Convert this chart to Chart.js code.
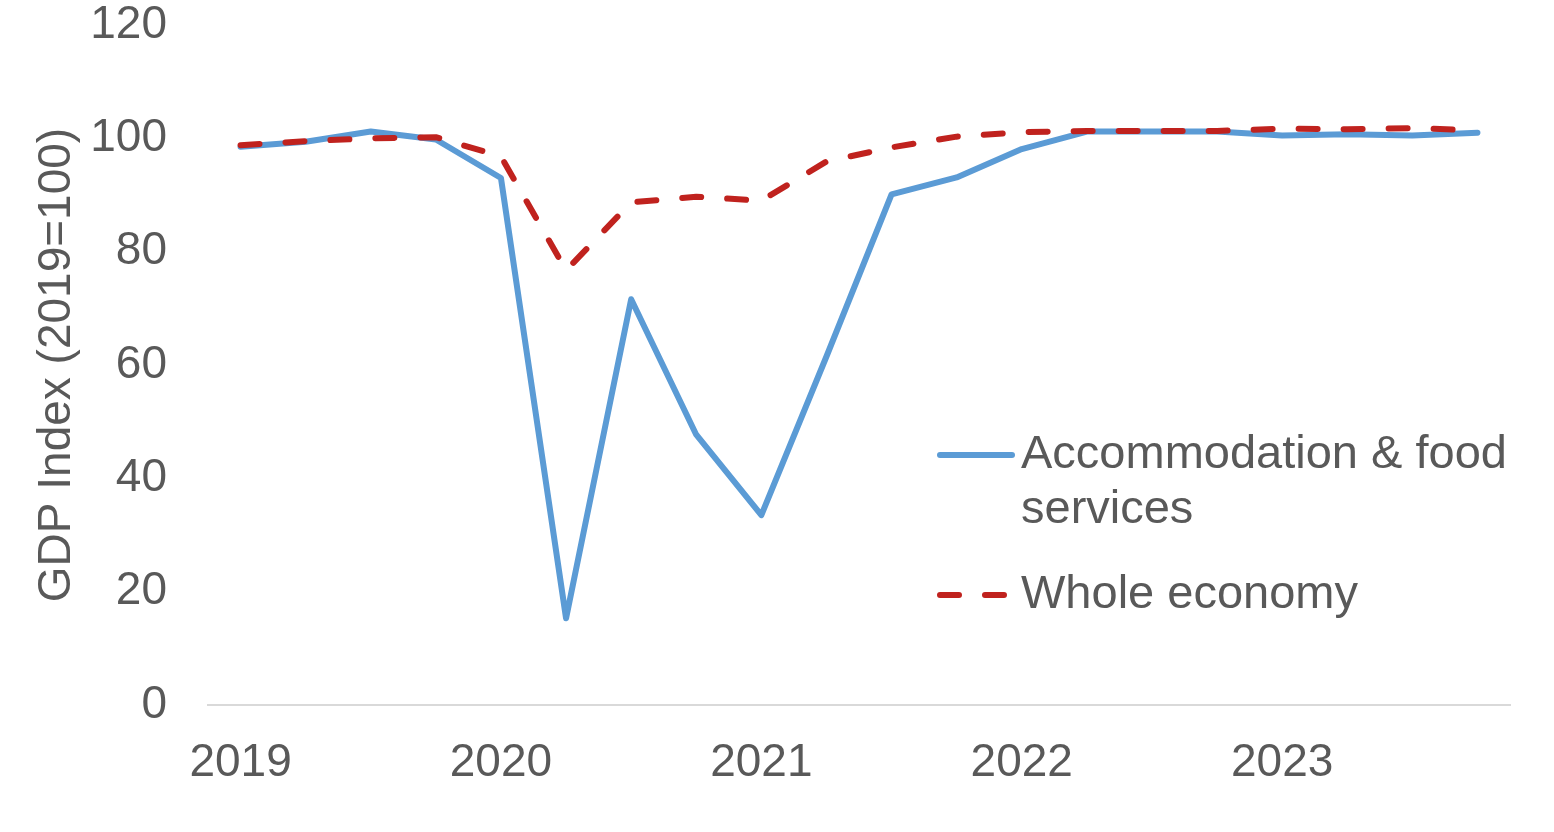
<!DOCTYPE html>
<html>
<head>
<meta charset="utf-8">
<title>GDP Index</title>
<script src="https://cdn.jsdelivr.net/npm/chart.js@4.4.1/dist/chart.umd.min.js"></script>
<style>
  html, body { margin: 0; padding: 0; background: #fff; }
  #wrap { width: 1554px; height: 832px; position: relative; }
</style>
</head>
<body>
<div id="wrap"><canvas id="gdp"></canvas></div>
<script>
// quarterly points, 2019 Q1 .. 2023 Q4
const quarters = [
  '2019 Q1', '2019 Q2', '2019 Q3', '2019 Q4',
  '2020 Q1', '2020 Q2', '2020 Q3', '2020 Q4',
  '2021 Q1', '2021 Q2', '2021 Q3', '2021 Q4',
  '2022 Q1', '2022 Q2', '2022 Q3', '2022 Q4',
  '2023 Q1', '2023 Q2', '2023 Q3', '2023 Q4'
];
const accommodation = [
  98.5, 99.4, 101.2, 99.8,
  93.0, 15.3, 71.6, 47.7,
  33.5, 61.5, 90.1, 93.1,
  98.1, 101.2, 101.2, 101.2,
  100.5, 100.7, 100.5, 101.0
];
const wholeEconomy = [
  98.8, 99.5, 100.0, 100.2,
  96.8, 76.7, 88.7, 89.7,
  89.0, 95.9, 98.4, 100.3,
  101.1, 101.3, 101.3, 101.3,
  101.7, 101.6, 101.8, 101.4
];
const yTicks = [0, 20, 40, 60, 80, 100, 120];

const grey = '#595959';
const blue = '#5B9BD5';
const red = '#C0221E';
const fontFamily = '"Liberation Sans", Arial, sans-serif';

// legend drawn by hand so the long label can wrap onto two lines
const legendLines = [
  ['Accommodation & food', 'services'],
  ['Whole economy']
];

const sideLegend = {
  id: 'sideLegend',
  afterDraw(chart) {
    const c = chart.ctx;
    const rows = [455, 595];
    c.save();
    c.font = '47px ' + fontFamily;
    c.fillStyle = grey;
    c.textBaseline = 'middle';
    chart.data.datasets.forEach((ds, i) => {
      const y = rows[i];
      c.beginPath();
      c.lineWidth = ds.borderWidth;
      c.strokeStyle = ds.borderColor;
      c.lineCap = 'round';
      c.setLineDash(ds.borderDash || []);
      c.moveTo(940, y);
      c.lineTo(1012, y);
      c.stroke();
      c.setLineDash([]);
      legendLines[i].forEach((t, k) => c.fillText(t, 1021, y + k * 55));
    });
    c.restore();
  }
};

new Chart(document.getElementById('gdp'), {
  type: 'line',
  data: {
    labels: quarters,
    datasets: [
      {
        label: 'Accommodation & food services',
        data: accommodation,
        borderColor: blue,
        borderWidth: 6,
        borderJoinStyle: 'round',
        borderCapStyle: 'round',
        pointRadius: 0,
        tension: 0,
        order: 1
      },
      {
        label: 'Whole economy',
        data: wholeEconomy,
        borderColor: red,
        borderWidth: 6,
        borderDash: [19, 26],
        borderJoinStyle: 'round',
        borderCapStyle: 'round',
        pointRadius: 0,
        tension: 0,
        order: 0
      }
    ]
  },
  options: {
    responsive: true,
    maintainAspectRatio: false,
    animation: false,
    layout: { padding: { top: 25, right: 44, bottom: 0, left: 0 } },
    plugins: {
      legend: { display: false },
      tooltip: { enabled: false }
    },
    scales: {
      x: {
        offset: true,
        grid: { display: false, drawTicks: false },
        border: { display: true, color: '#D9D9D9', width: 2 },
        ticks: {
          autoSkip: false,
          maxRotation: 0,
          padding: 35,
          color: grey,
          font: { family: fontFamily, size: 46, lineHeight: 1 },
          callback: function (v) {
            const q = this.getLabelForValue(v);
            return q.endsWith('Q1') ? q.slice(0, 4) : '';
          }
        },
        afterFit(scale) { scale.height = 127; }
      },
      y: {
        min: 0,
        max: 120,
        afterBuildTicks(scale) { scale.ticks = yTicks.map(v => ({ value: v })); },
        // invisible tick marks give the gap between labels and plot
        grid: { display: true, drawOnChartArea: false, drawTicks: true, tickLength: 41, color: 'rgba(0,0,0,0)' },
        border: { display: false },
        ticks: {
          padding: 0,
          color: grey,
          font: { family: fontFamily, size: 46, lineHeight: 1 }
        },
        title: {
          display: true,
          text: 'GDP Index (2019=100)',
          color: grey,
          font: { family: fontFamily, size: 46, lineHeight: 1.2 },
          padding: { top: 30, bottom: 0 }
        },
        afterFit(scale) { scale.width = 208; }
      }
    }
  },
  plugins: [sideLegend]
});
</script>
</body>
</html>
